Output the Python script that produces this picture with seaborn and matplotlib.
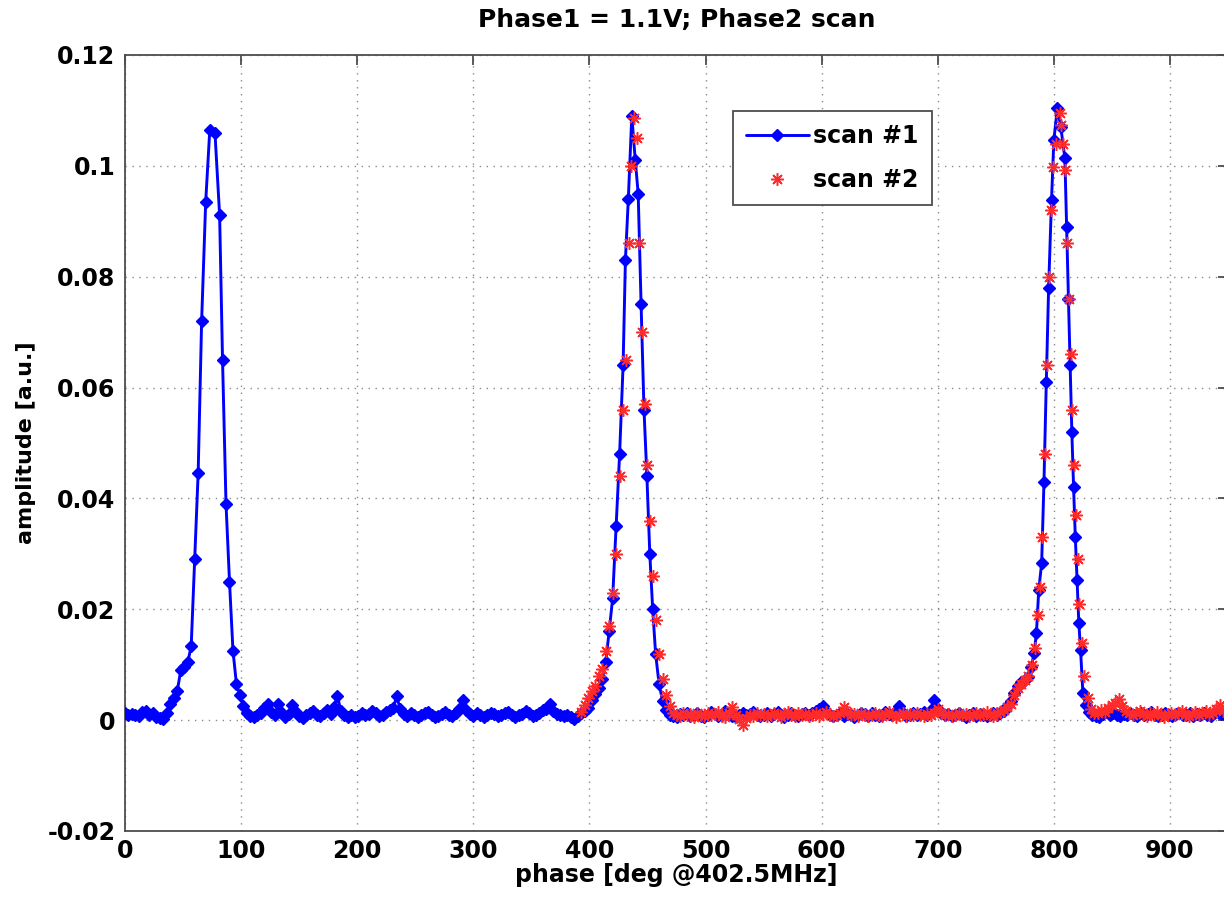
import matplotlib
matplotlib.use("Agg")
import matplotlib.pyplot as plt
import seaborn as sns
import pandas as pd

# ---- scan #1 (blue) : phase [deg] and amplitude [a.u.] ----
scan1_phase = [
    0, 3, 6, 9, 12, 15, 18, 21, 24, 27, 30, 33, 36, 39, 42, 45, 48, 51, 54, 57,
    60, 63, 66, 69.5, 73, 77.5, 81.5, 84, 87, 90, 93, 96, 99, 102, 105,
    108, 111, 114, 117, 120, 123, 126, 129, 132, 135,
    138, 141, 144, 147, 150, 153, 156, 159, 162, 165,
    168, 171, 174, 177, 180, 183, 186, 189, 192, 195,
    198, 201, 204, 207, 210, 213, 216, 219, 222, 225,
    228, 231, 234, 237, 240, 243, 246, 249, 252, 255,
    258, 261, 264, 267, 270, 273, 276, 279, 282, 285,
    288, 291, 294, 297, 300, 303, 306, 309, 312, 315,
    318, 321, 324, 327, 330, 333, 336, 339, 342, 345,
    348, 351, 354, 357, 360, 363, 366, 369, 372, 375,
    378, 381, 384, 387, 390, 393, 396,
    399, 402, 405, 408, 411, 414, 417, 420, 423, 426, 429, 431, 433.5, 436.5,
    439.5, 442, 444.5, 447, 449.5, 452, 454.5, 457, 460, 463, 466, 469,
    472, 475, 478, 481, 484, 487, 490, 493, 496, 499,
    502, 505, 508, 511, 514, 517, 520, 523, 526, 529,
    532, 535, 538, 541, 544, 547, 550, 553, 556, 559,
    562, 565, 568, 571, 574, 577, 580, 583, 586, 589,
    592, 595, 598, 601, 604, 607, 610, 613, 616, 619,
    622, 625, 628, 631, 634, 637, 640, 643, 646, 649,
    652, 655, 658, 661, 664, 667, 670, 673, 676, 679,
    682, 685, 688, 691, 694, 697, 700, 703, 706, 709,
    712, 715, 718, 721, 724, 727, 730, 733, 736, 739,
    742, 745, 748, 751, 754, 757,
    760, 763, 766, 769, 772, 775, 778, 780.5, 783, 785, 787, 789.5, 791.5,
    793.5, 795.5, 798, 800, 803, 806, 809.5, 811, 812.5, 814, 815.5, 817,
    818.5, 820, 821.5, 823, 825, 827.5, 830, 833,
    836, 839, 842, 845, 848, 851, 854, 857, 860, 863,
    866, 869, 872, 875, 878, 881, 884, 887, 890, 893,
    896, 899, 902, 905, 908, 911, 914, 917, 920, 923,
    926, 929, 932, 935, 938, 941, 944, 947,
]
scan1_amp = [
    .0012, .0010, .0011, .0009, .0008, .0014, .0017, .0010, .0013, .0006,
    .0004, .0002, .0012, .0030, .0040, .0052, .0090, .0096, .0104, .0133,
    .0290, .0445, .0720, .0935, .1064, .1059, .0911, .0650, .0390, .0250,
    .0125, .0065, .0045, .0025, .0012,
    .0008, .0005, .0010, .0012, .0022, .0030, .0014, .0009, .0029, .0012,
    .0006, .0011, .0027, .0015, .0008, .0004, .0009, .0013, .0016, .0010,
    .0007, .0012, .0018, .0011, .0024, .0043, .0016, .0009, .0006, .0010,
    .0005, .0008, .0013, .0009, .0011, .0016, .0012, .0007, .0010, .0014,
    .0019, .0022, .0043, .0020, .0011, .0008, .0013, .0010, .0006, .0009,
    .0012, .0015, .0009, .0005, .0008, .0011, .0014, .0010, .0007, .0012,
    .0021, .0037, .0018, .0011, .0008, .0012, .0009, .0006, .0010, .0013,
    .0011, .0007, .0009, .0012, .0014, .0010, .0006, .0009, .0011, .0016,
    .0012, .0008, .0010, .0013, .0018, .0021, .0030, .0017, .0011, .0009,
    .0007, .0010, .0006, .0002, .0008, .0012, .0016,
    .0022, .0036, .0048, .0058, .0075, .0105, .0160, .0220, .0350, .0480,
    .0640, .0830, .0940, .1090, .1010, .0950, .0750, .0560, .0440, .0300,
    .0200, .0120, .0065, .0035, .0018, .0010,
    .0008, .0006, .0011, .0009, .0013, .0007, .0010, .0012, .0008, .0005,
    .0009, .0014, .0011, .0007, .0010, .0016, .0012, .0008, .0006, .0010,
    .0013, .0009, .0011, .0015, .0010, .0007, .0009, .0012, .0008, .0011,
    .0014, .0010, .0006, .0009, .0012, .0010, .0008, .0011, .0013, .0009,
    .0012, .0016, .0021, .0025, .0014, .0009, .0007, .0010, .0012, .0008,
    .0011, .0009, .0006, .0010, .0013, .0011, .0008, .0012, .0009, .0007,
    .0010, .0014, .0011, .0009, .0016, .0025, .0013, .0008, .0010, .0012,
    .0009, .0011, .0014, .0010, .0018, .0037, .0020, .0012, .0009, .0011,
    .0008, .0010, .0013, .0009, .0006, .0010, .0012, .0008, .0011, .0009,
    .0007, .0010, .0012, .0009, .0013, .0017,
    .0025, .0035, .0049, .0061, .0068, .0073, .0078, .0095, .0121, .0157,
    .0235, .0283, .0430, .0610, .0780, .0938, .1046, .1104, .1070, .1014,
    .0890, .0760, .0640, .0520, .0420, .0330, .0253, .0176, .0127, .0049,
    .0028, .0015, .0010,
    .0008, .0006, .0011, .0014, .0009, .0012, .0010, .0007, .0011, .0009,
    .0013, .0010, .0008, .0012, .0009, .0011, .0014, .0010, .0007, .0009,
    .0012, .0010, .0008, .0011, .0013, .0009, .0010, .0012, .0008, .0011,
    .0009, .0013, .0010, .0008, .0012, .0015, .0011, .0009,
]

# ---- scan #2 (red) ----
scan2_phase = [
    393, 396, 399, 402, 405, 408, 411, 414, 417, 420, 423, 426, 429, 431.5,
    434, 436, 438.5, 441, 443, 445.5, 448, 450, 452.5, 455, 457.5, 460, 463,
    466, 469, 472,
    475, 478, 481, 484, 487, 490, 493, 496, 499, 502,
    505, 508, 511, 514, 517, 520, 523, 526, 529, 532,
    535, 538, 541, 544, 547, 550, 553, 556, 559, 562,
    565, 568, 571, 574, 577, 580, 583, 586, 589, 592,
    595, 598, 601, 604, 607, 610, 613, 616, 619, 622,
    625, 628, 631, 634, 637, 640, 643, 646, 649, 652,
    655, 658, 661, 664, 667, 670, 673, 676, 679, 682,
    685, 688, 691, 694, 697, 700, 703, 706, 709, 712,
    715, 718, 721, 724, 727, 730, 733, 736, 739, 742,
    745, 748, 751, 754, 757, 760,
    763, 766, 769, 772, 775, 778, 781, 783.5, 786, 788, 790, 792, 794, 796,
    797.5, 799.5, 802, 805, 806.5, 808, 809.6, 811.5, 813, 814.5, 816, 817.5,
    819, 820.5, 822, 824, 826, 829, 832, 835,
    838, 841, 844, 847, 850, 853, 856, 859, 862, 865,
    868, 871, 874, 877, 880, 883, 886, 889, 892, 895,
    898, 901, 904, 907, 910, 913, 916, 919, 922, 925,
    928, 931, 934, 937, 940, 943, 946,
]
scan2_amp = [
    .0015, .0028, .0040, .0052, .0062, .0079, .0092, .0125, .0170, .0230,
    .0300, .0440, .0560, .0650, .0860, .1000, .1087, .1050, .0860, .0700,
    .0570, .0460, .0360, .0260, .0180, .0120, .0075, .0045, .0025, .0012,
    .0010, .0007, .0012, .0009, .0011, .0006, .0013, .0010, .0008, .0012,
    .0009, .0011, .0015, .0008, .0006, .0012, .0023, .0009, .0002, -.0008,
    .0004, .0010, .0008, .0012, .0009, .0011, .0007, .0010, .0013, .0009,
    .0006, .0011, .0014, .0010, .0008, .0012, .0009, .0011, .0007, .0010,
    .0012, .0008, .0011, .0014, .0010, .0007, .0009, .0012, .0024, .0015,
    .0009, .0011, .0008, .0012, .0010, .0007, .0009, .0013, .0010, .0008,
    .0011, .0014, .0009, .0006, .0010, .0012, .0008, .0011, .0009, .0013,
    .0010, .0007, .0011, .0009, .0012, .0020, .0013, .0009, .0011, .0008,
    .0010, .0013, .0009, .0011, .0007, .0010, .0012, .0009, .0011, .0014,
    .0010, .0008, .0012, .0015, .0019, .0024,
    .0030, .0045, .0058, .0066, .0072, .0080, .0100, .0130, .0190, .0240,
    .0330, .0480, .0640, .0800, .0920, .0998, .1040, .1095, .1073, .1040,
    .0992, .0860, .0760, .0660, .0560, .0460, .0370, .0290, .0210, .0140,
    .0080, .0040, .0020, .0012,
    .0012, .0018, .0014, .0022, .0028, .0031, .0038, .0026, .0017, .0012,
    .0009, .0013, .0016, .0011, .0008, .0012, .0010, .0014, .0009, .0006,
    .0011, .0013, .0009, .0012, .0016, .0010, .0008, .0011, .0014, .0009,
    .0012, .0017, .0011, .0013, .0020, .0028, .0016,
]

x_ticks = [0, 100, 200, 300, 400, 500, 600, 700, 800, 900]
x_ticklabels = ["0", "100", "200", "300", "400", "500", "600", "700", "800", "900"]
y_ticks = [-0.02, 0, 0.02, 0.04, 0.06, 0.08, 0.10, 0.12]
y_ticklabels = ["-0.02", "0", "0.02", "0.04", "0.06", "0.08", "0.1", "0.12"]

title_text = "Phase1 = 1.1V; Phase2 scan"
x_label = "phase [deg @402.5MHz]"
y_label = "amplitude [a.u.]"
series_labels = ["scan #1", "scan #2"]

sns.set_style("white")
plt.rcParams["font.family"] = ["DejaVu Sans"]
plt.rcParams["font.weight"] = "bold"
plt.rcParams["text.color"] = "black"
plt.rcParams["axes.labelcolor"] = "black"

edge = "#4d4d4d"
fs_tick = 17
fs_title = 18
fs_xlabel = 17
fs_ylabel = 16
fs_leg = 17

df1 = pd.DataFrame({"phase": scan1_phase, "amp": scan1_amp})
df2 = pd.DataFrame({"phase": scan2_phase, "amp": scan2_amp})

fig = plt.figure(figsize=(12.24, 8.99), dpi=100)
ax = fig.add_axes([125 / 1224, 1 - 831 / 899, 1103 / 1224, 776 / 899])

sns.lineplot(data=df1, x="phase", y="amp", ax=ax, sort=False, estimator=None,
             color="#0000ff", linewidth=2.1, marker="D", markersize=6,
             markeredgecolor="#0000ff", markerfacecolor="#0000ff",
             markeredgewidth=1.0, label=series_labels[0], zorder=3)
sns.lineplot(data=df2, x="phase", y="amp", ax=ax, sort=False, estimator=None,
             color="#ff1a1a", linestyle="", marker=(8, 2, 0), markersize=9,
             markeredgecolor="#ff2a2a", markeredgewidth=1.1,
             label=series_labels[1], zorder=4)

ax.set_xlim(0, 950)
ax.set_ylim(-0.02, 0.12)
ax.set_xticks(x_ticks)
ax.set_xticklabels(x_ticklabels)
ax.set_yticks(y_ticks)
ax.set_yticklabels(y_ticklabels)

ax.grid(True, color="#8a8a8a", linestyle=(0, (1, 4)), linewidth=1.0)
for sp in ax.spines.values():
    sp.set_visible(True)
    sp.set_color(edge)
    sp.set_linewidth(1.3)
ax.tick_params(axis="both", which="both", direction="in", length=7, width=1.3,
               color=edge, labelcolor="black", top=True, right=True,
               labelsize=fs_tick)
ax.tick_params(axis="y", pad=7)
ax.tick_params(axis="x", pad=6)
for lab in ax.get_xticklabels() + ax.get_yticklabels():
    lab.set_fontweight("bold")

ax.set_title(title_text, fontsize=fs_title, fontweight="bold", pad=20)
ax.set_xlabel(x_label, fontsize=fs_xlabel, fontweight="bold", labelpad=0)
ax.set_ylabel(y_label, fontsize=fs_ylabel, fontweight="bold", labelpad=8)

leg = ax.legend(loc="upper left", bbox_to_anchor=(733 / 1224, 1 - 111 / 899),
                bbox_transform=fig.transFigure, borderaxespad=0.0,
                frameon=True, fancybox=False, framealpha=1, edgecolor=edge,
                borderpad=0.55, handlelength=2.65, handletextpad=0.2,
                labelspacing=0.85, prop={"weight": "bold", "size": fs_leg})
leg.get_frame().set_linewidth(1.3)

fig.savefig("out.png", dpi=100)
